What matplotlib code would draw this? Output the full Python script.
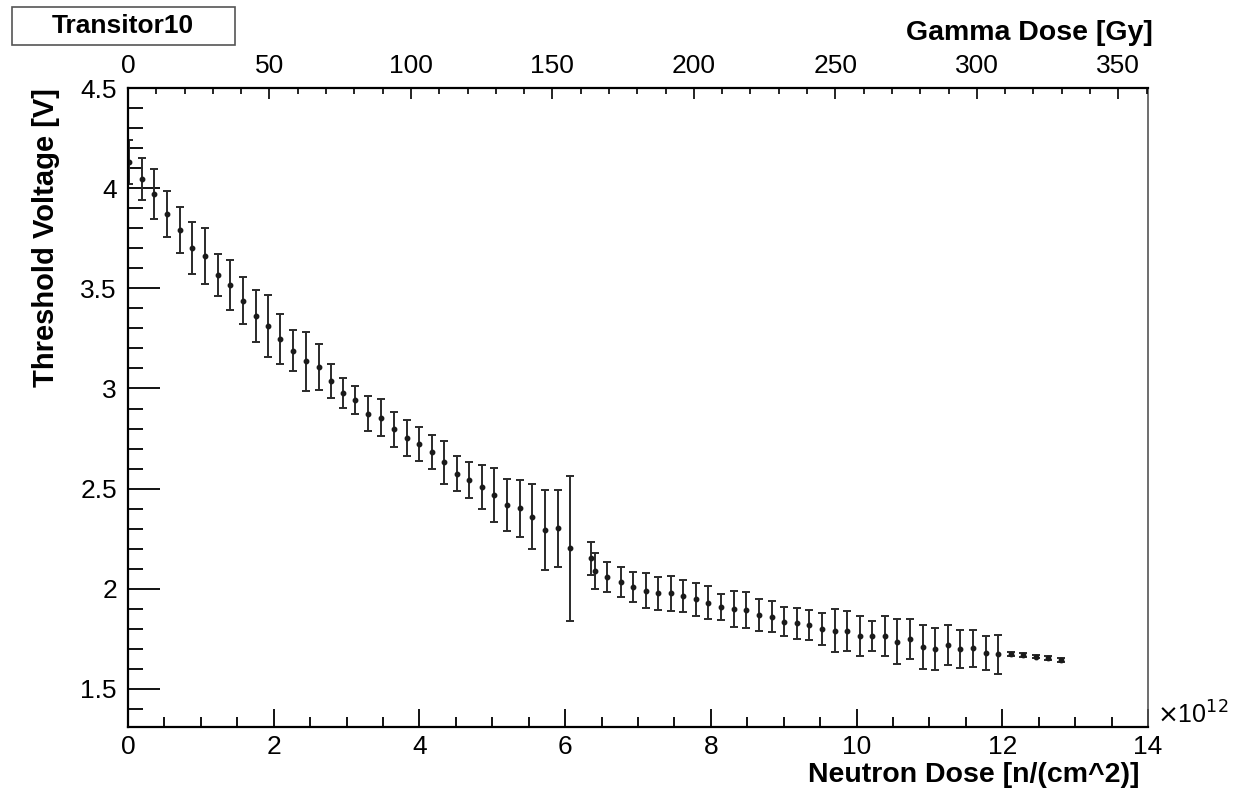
import matplotlib
matplotlib.use("Agg")
import matplotlib.pyplot as plt
from matplotlib.ticker import MultipleLocator
from matplotlib.patches import Rectangle

plt.rcParams['font.family'] = ['Liberation Sans', 'DejaVu Sans']

# neutron dose (x 1e12 n/cm^2), threshold voltage [V] and its error
dose = [0.02, 0.19, 0.36, 0.535, 0.71, 0.88, 1.06, 1.23, 1.40, 1.574,
        1.75, 1.92, 2.09, 2.26, 2.44, 2.62, 2.786, 2.95, 3.12, 3.30,
        3.47, 3.65, 3.825, 3.99, 4.168, 4.34, 4.51, 4.685, 4.86, 5.02,
        5.20, 5.376, 5.55, 5.727, 5.90, 6.07,
        6.355, 6.41, 6.58, 6.76, 6.93, 7.105, 7.28, 7.45, 7.62, 7.80,
        7.96, 8.14, 8.317, 8.48, 8.66, 8.835, 9.0, 9.18, 9.346, 9.53,
        9.70, 9.87, 10.05, 10.215, 10.39, 10.56, 10.737, 10.907, 11.08, 11.254,
        11.42, 11.60, 11.776, 11.94,
        12.12, 12.29, 12.46, 12.63, 12.81]
vth = [4.13, 4.044, 3.969, 3.873, 3.793, 3.703, 3.661, 3.566, 3.516, 3.438,
       3.362, 3.312, 3.247, 3.188, 3.136, 3.107, 3.037, 2.979, 2.941, 2.874,
       2.854, 2.796, 2.751, 2.723, 2.683, 2.631, 2.574, 2.543, 2.506, 2.468,
       2.42, 2.402, 2.36, 2.293, 2.302, 2.202,
       2.152, 2.089, 2.06, 2.034, 2.009, 1.991, 1.977, 1.977, 1.964, 1.947,
       1.93, 1.91, 1.899, 1.894, 1.869, 1.861, 1.836, 1.828, 1.819, 1.799,
       1.791, 1.789, 1.764, 1.764, 1.764, 1.736, 1.748, 1.71, 1.70, 1.721,
       1.698, 1.704, 1.678, 1.674,
       1.673, 1.669, 1.661, 1.653, 1.644]
vth_err = [0.11, 0.105, 0.125, 0.115, 0.115, 0.13, 0.14, 0.105, 0.125, 0.118,
           0.128, 0.155, 0.125, 0.103, 0.147, 0.117, 0.087, 0.074, 0.07, 0.087,
           0.092, 0.087, 0.09, 0.084, 0.083, 0.108, 0.087, 0.092, 0.11, 0.134,
           0.13, 0.143, 0.163, 0.2, 0.193, 0.363,
           0.083, 0.092, 0.075, 0.073, 0.075, 0.086, 0.082, 0.087, 0.08, 0.084,
           0.082, 0.065, 0.088, 0.092, 0.081, 0.077, 0.072, 0.077, 0.077, 0.082,
           0.109, 0.1, 0.1, 0.076, 0.098, 0.113, 0.1, 0.11, 0.106, 0.1,
           0.095, 0.092, 0.084, 0.097,
           0.009, 0.009, 0.009, 0.009, 0.009]

# 1e12 n/cm^2 corresponds to ~25.75 Gy on the top axis
gy_per_unit = 25.75
x_max = 14
y_min = 1.31
y_max = 4.5

W, H = 1233, 799


def main():
    fig = plt.figure(figsize=(W / 100, H / 100), dpi=100)
    ax = fig.add_axes([128 / W, 1 - 727 / H, 1020 / W, 639 / H])

    ax.errorbar(dose, vth, yerr=vth_err, fmt='o', ms=3.2, color='#1a1a1a',
                ecolor='#2a2a2a', elinewidth=1.4, capsize=3.2, capthick=1.4)

    ax.set_xlim(0, x_max)
    ax.set_ylim(y_min, y_max)

    ax.xaxis.set_major_locator(MultipleLocator(2))
    ax.xaxis.set_minor_locator(MultipleLocator(0.5))
    ax.yaxis.set_minor_locator(MultipleLocator(0.1))
    ax.set_yticks([1.5, 2, 2.5, 3, 3.5, 4, 4.5])
    ax.set_yticklabels(['1.5', '2', '2.5', '3', '3.5', '4', '4.5'])

    ax.tick_params(axis='x', which='major', direction='in', length=13, width=1.3,
                   labelsize=19, pad=6, top=False)
    ax.tick_params(axis='x', which='minor', direction='in', length=7, width=1.3, top=False)
    ax.tick_params(axis='y', which='major', direction='in', length=23, width=1.3,
                   labelsize=19, pad=8, right=False)
    ax.tick_params(axis='y', which='minor', direction='in', length=11, width=1.3, right=False)

    ax.spines['left'].set_linewidth(1.6)
    ax.spines['bottom'].set_linewidth(1.6)
    ax.spines['right'].set_linewidth(1.2)
    ax.spines['right'].set_color('#555555')
    ax.spines['top'].set_visible(False)

    # gamma dose axis on top
    ax2 = ax.twiny()
    ax2.set_xlim(0, x_max * gy_per_unit)
    ax2.xaxis.set_major_locator(MultipleLocator(50))
    ax2.xaxis.set_minor_locator(MultipleLocator(10))
    ax2.tick_params(axis='x', which='major', direction='in', length=8, width=1.2,
                    labelsize=19, pad=7)
    ax2.tick_params(axis='x', which='minor', direction='in', length=4.5, width=1.2)
    ax2.spines['top'].set_linewidth(1.6)
    for s in ['left', 'right', 'bottom']:
        ax2.spines[s].set_visible(False)

    fig.text(1153 / W, 1 - 33 / H, 'Gamma Dose [Gy]', ha='right', va='center',
             fontsize=20.5, fontweight='bold')
    fig.text(1140 / W, 1 - 775 / H, 'Neutron Dose [n/(cm^2)]', ha='right', va='center',
             fontsize=20.5, fontweight='bold')
    fig.text(46 / W, 1 - 238 / H, 'Threshold Voltage [V]', ha='center', va='center',
             rotation=90, fontsize=21, fontweight='bold')
    fig.text(1157 / W, 1 - 715 / H, r'$\times$10$^{12}$', ha='left', va='center',
             fontsize=18)

    # title box
    fig.patches.append(Rectangle((12 / W, 1 - 45 / H), 223 / W, 38 / H,
                                 transform=fig.transFigure, fc='white',
                                 ec='#555555', lw=1.2))
    fig.text(123 / W, 1 - 26 / H, 'Transitor10', ha='center', va='center',
             fontsize=19, fontweight='bold')

    fig.savefig('out.png', dpi=100)


if __name__ == "__main__":
    main()
